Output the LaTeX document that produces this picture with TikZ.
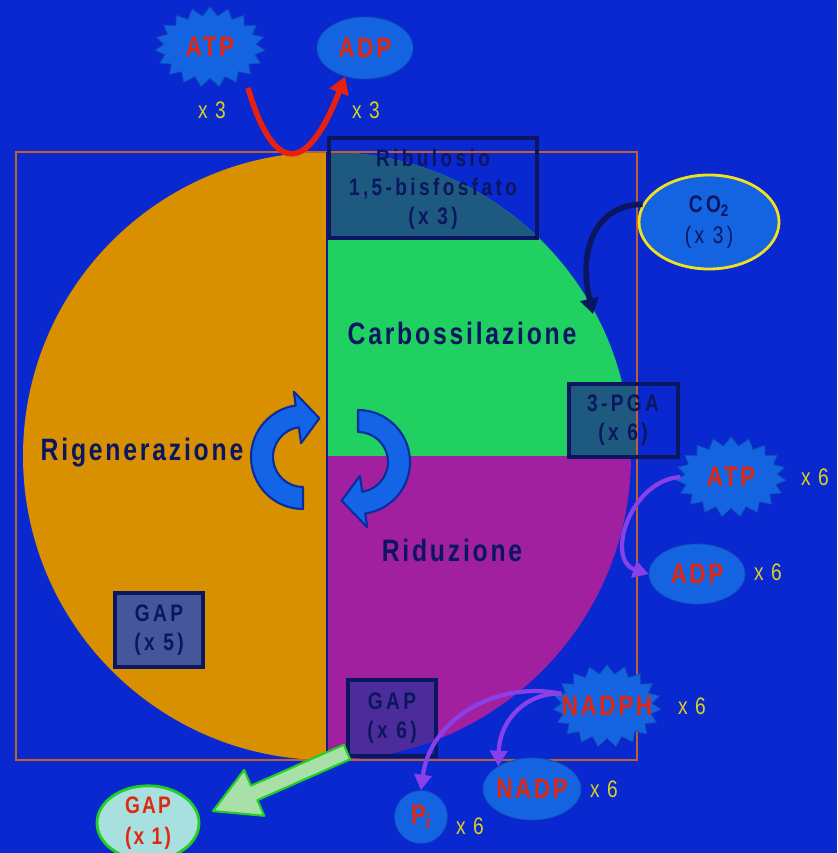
\documentclass[tikz,border=0pt]{standalone}
\usepackage{fontspec}
\setmainfont{Liberation Sans}
\newfontfamily\lf[FakeStretch=0.8,LetterSpace=9]{Liberation Sans}
\newfontfamily\lfw[FakeStretch=0.8,LetterSpace=14]{Liberation Sans}
\usetikzlibrary{shapes.geometric,shapes.symbols,arrows.meta,calc}
\definecolor{bg}{RGB}{10,40,208}
\definecolor{nfill}{RGB}{20,100,226}
\definecolor{orng}{RGB}{216,144,0}
\definecolor{grn}{RGB}{32,208,96}
\definecolor{purp}{RGB}{160,32,160}
\definecolor{navy}{RGB}{10,22,96}
\definecolor{redt}{RGB}{224,40,16}
\definecolor{yel}{RGB}{216,208,32}
\definecolor{teal}{RGB}{30,90,128}
\definecolor{gapfive}{RGB}{70,86,154}
\definecolor{gapsix}{RGB}{76,44,154}
\definecolor{frame}{RGB}{192,96,42}
\definecolor{cyfill}{RGB}{20,100,232}
\definecolor{cyline}{RGB}{10,44,156}
\definecolor{parrow}{RGB}{138,64,232}
\definecolor{rarrow}{RGB}{232,32,16}
\definecolor{lgreen}{RGB}{168,224,168}
\definecolor{bgreen}{RGB}{32,208,32}
\definecolor{lcyan}{RGB}{168,224,224}
\definecolor{yline}{RGB}{240,224,32}
\tikzset{
  biglabel/.style={font=\lf\bfseries\fontsize{22}{26}\selectfont, text=navy},
  redlabel/.style={font=\lf\bfseries\fontsize{20}{24}\selectfont, text=redt},
  mult/.style={font=\lf\fontsize{17}{20}\selectfont, text=yel},
  boxtext/.style={font=\lfw\bfseries\fontsize{17}{20.5}\selectfont, text=navy, align=center},
  boxline/.style={draw=navy, line width=3pt},
  burst/.style={starburst, starburst points=19, starburst point height=0.22cm, random starburst=0, fill=nfill, draw=nfill!80!black, line width=0.5pt, inner sep=0pt},
  oval/.style={ellipse, fill=nfill, draw=nfill!80!black, line width=0.5pt, inner sep=0pt},
  cyc/.style={fill=cyfill, draw=cyline, line width=1.5pt, line join=round},
  parr/.style={draw=parrow, line width=3pt, -{Triangle[length=11pt,width=12pt]}},
}
\begin{document}
\begin{tikzpicture}[x=0.025cm,y=-0.025cm]
\useasboundingbox (0,0) rectangle (837,853);
\fill[bg] (0,0) rectangle (837,853);
% circle quarters
\begin{scope}
  \clip (327,456) circle (304);
  \fill[orng] (0,0) rectangle (327,853);
  \fill[grn] (327,0) rectangle (700,456);
  \fill[purp] (327,456) rectangle (700,853);
\end{scope}
% box fills
\begin{scope}
  \clip (329,138) rectangle (537,238);
  \fill[teal] (327,456) circle (304);
\end{scope}
\begin{scope}
  \clip (569,384) rectangle (637,457);
  \fill[teal] (569,384) rectangle (678,457);
\end{scope}
\fill[gapfive] (115,593) rectangle (203,667);
\begin{scope}
  \clip (348,680) rectangle (436,756);
  \fill[gapsix] (327,456) circle (304);
\end{scope}
% frame
\draw[frame, line width=1pt] (16,152) rectangle (637,760);
% divider
\draw[navy!60!bg, line width=2pt] (327,152) -- (327,760);
% box outlines
\draw[boxline] (329,138) rectangle (537,238);
\draw[boxline] (569,384) rectangle (678,457);
\draw[boxline] (115,593) rectangle (203,667);
\draw[boxline] (348,680) rectangle (436,756);
% box texts
\node[boxtext] (rubp) at (433,189) {Ribulosio\\1,5-bisfosfato\\(x 3)};
\node[boxtext] (pga) at (623,420) {3-PGA\\(x 6)};
\node[boxtext] (gapv) at (159,630) {GAP\\(x 5)};
\node[boxtext] (gapvi) at (392,718) {GAP\\(x 6)};
% big labels
\node[biglabel] (rig) at (142,453) {Rigenerazione};
\node[biglabel] (carb) at (462,333) {Carbossilazione};
\node[biglabel] (rid) at (452,550) {Riduzione};
% cycle arrows
\filldraw[cyc] ($(303,457)+(90:52)$) arc[start angle=90, end angle=262, radius=52]
  -- ($(303,457)+(262:66)$) -- ($(303,457)+(293:42)$) -- ($(303,457)+(262:14)$)
  -- ($(303,457)+(262:30)$) arc[start angle=262, end angle=90, radius=30] -- cycle;
\filldraw[cyc] ($(358,462)+(270:52)$) arc[start angle=270, end angle=442, radius=52]
  -- ($(358,462)+(442:66)$) -- ($(358,462)+(473:42)$) -- ($(358,462)+(442:14)$)
  -- ($(358,462)+(442:30)$) arc[start angle=442, end angle=270, radius=30] -- cycle;
% green arrow
\filldraw[fill=lgreen, draw=bgreen, line width=1.5pt, line join=round]
  (343.8,744.7) -- (251.0,785.6) -- (244.1,770.0) -- (213,811) -- (264.3,815.8) -- (257.4,800.2) -- (350.2,759.3) -- cycle;
% nodes
\node[burst, minimum width=2.75cm, minimum height=2.0cm] (atpA) at (210,47) {};
\node[redlabel] at (atpA.center) {ATP};
\node[oval, minimum width=2.4cm, minimum height=1.55cm] (adpA) at (365,48) {};
\node[redlabel] at (adpA.center) {ADP};
\node[mult] (xa) at (212,110) {x 3};
\node[mult] (xb) at (366,110) {x 3};
\node[ellipse, fill=nfill, draw=yline, line width=2pt, minimum width=3.5cm, minimum height=2.35cm, inner sep=0pt, align=center,
  font=\lfw\fontsize{17}{22}\selectfont, text=navy] (co2) at (709,222) {\bfseries CO\textsubscript{2}\\(x 3)};
\node[burst, minimum width=2.75cm, minimum height=2.0cm] (atpB) at (731,477) {};
\node[redlabel] at (atpB.center) {ATP};
\node[mult] (xc) at (815,477) {x 6};
\node[oval, minimum width=2.4cm, minimum height=1.5cm] (adpB) at (697,574) {};
\node[redlabel] at (adpB.center) {ADP};
\node[mult] (xd) at (768,572) {x 6};
\node[burst, minimum width=2.7cm, minimum height=2.05cm] (nadph) at (607,706) {};
\node[redlabel] at (nadph.center) {NADPH};
\node[mult] (xe) at (692,706) {x 6};
\node[oval, minimum width=2.45cm, minimum height=1.55cm] (nadp) at (532,789) {};
\node[redlabel] at (nadp.center) {NADP};
\node[mult] (xf) at (604,789) {x 6};
\node[circle, fill=nfill, draw=nfill!80!black, line width=0.5pt, minimum size=1.32cm, inner sep=0pt] (pi) at (421,817) {};
\node[redlabel] at (pi.center) {P\textsubscript{i}};
\node[mult] (xg) at (470,826) {x 6};
\node[ellipse, fill=lcyan, draw=bgreen, line width=2pt, minimum width=2.55cm, minimum height=1.65cm, inner sep=0pt, align=center,
  font=\lf\bfseries\fontsize{17}{22}\selectfont, text=redt] (gapi) at (148,823) {GAP\\(x 1)};
% connectors
\draw[rarrow, line width=4pt, -{Triangle[length=12pt,width=14pt]}] ($(atpA.center)+(38,41)$) .. controls (272,170) and (305,180) .. (adpA.-125);
\coordinate (co2end) at (593,314);
\draw[navy, line width=4pt, -{Triangle[length=11pt,width=13pt]}] (co2.165) .. controls (595,205) and (578,250) .. (co2end);
\draw[parr] (atpB.west) .. controls (630,480) and (605,560) .. (adpB.west);
\draw[parr] (nadph.165) .. controls (528,692) and (500,718) .. (nadp.146);
\draw[parr] (nadph.165) .. controls (495,680) and (430,720) .. (pi.north);
\end{tikzpicture}
\end{document}
